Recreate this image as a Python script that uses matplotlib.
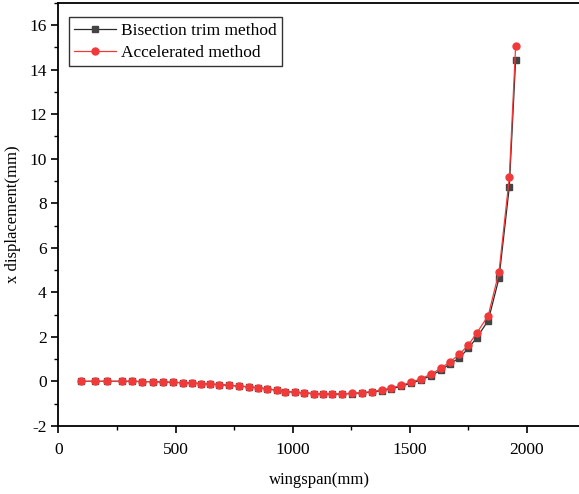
import matplotlib
matplotlib.use("Agg")
import matplotlib.pyplot as plt
from matplotlib.ticker import MultipleLocator

plt.rcParams['font.family'] = ['Liberation Serif', 'DejaVu Serif']
plt.rcParams['axes.unicode_minus'] = False

# wingspan positions (mm)
span = [95, 158, 209, 272, 315, 358, 404, 447, 489, 532, 569, 607, 646, 687,
        727, 769, 812, 852, 892, 932, 969, 1009, 1049, 1089, 1129, 1169, 1209,
        1252, 1295, 1338, 1381, 1421, 1464, 1507, 1549, 1592, 1632, 1672, 1712,
        1750, 1786, 1835, 1881, 1925, 1952]

# x displacement (mm)
bisection = [0, 0, 0, 0, 0, -0.01, -0.02, -0.03, -0.05, -0.06, -0.08, -0.10,
             -0.12, -0.15, -0.18, -0.21, -0.25, -0.29, -0.34, -0.40, -0.46,
             -0.49, -0.52, -0.55, -0.57, -0.58, -0.57, -0.55, -0.52, -0.48,
             -0.42, -0.34, -0.22, -0.08, 0.07, 0.26, 0.50, 0.78, 1.06, 1.48,
             1.96, 2.73, 4.64, 8.74, 14.45]
accelerated = [0, 0, 0, 0, 0, -0.01, -0.02, -0.03, -0.05, -0.06, -0.08, -0.10,
               -0.12, -0.15, -0.18, -0.21, -0.25, -0.29, -0.34, -0.40, -0.46,
               -0.49, -0.52, -0.55, -0.57, -0.57, -0.56, -0.54, -0.51, -0.46,
               -0.39, -0.30, -0.18, -0.04, 0.12, 0.33, 0.58, 0.88, 1.21, 1.63,
               2.17, 2.95, 4.92, 9.16, 15.05]

fig = plt.figure(figsize=(5.79, 4.94), dpi=100)
ax = fig.add_axes([0.101, 0.138, 0.902, 0.856])

ax.plot(span, bisection, color="#2b2b2b", lw=0.9, marker="s", ms=4.5,
        mfc="#444444", mec="#444444", label="Bisection trim method")
ax.plot(span, accelerated, color="#f03a3a", lw=0.9, marker="o", ms=5,
        mfc="#f03a3a", mec="#f03a3a", label="Accelerated method")

ax.set_xlim(0, 2230)
ax.set_ylim(-2, 17)
ax.xaxis.set_major_locator(MultipleLocator(500))
ax.xaxis.set_minor_locator(MultipleLocator(250))
ax.yaxis.set_major_locator(MultipleLocator(2))
ax.yaxis.set_minor_locator(MultipleLocator(1))
ax.tick_params(which="major", direction="out", length=5, width=1.2,
               labelsize=12.5, top=False, right=False)
ax.tick_params(which="minor", direction="out", length=3, width=1.0,
               top=False, right=False)
ax.tick_params(axis="x", which="major", pad=7)
for s in ax.spines.values():
    s.set_linewidth(1.3)

ax.set_xlabel("wingspan(mm)", fontsize=12, labelpad=10)
ax.set_ylabel("x displacement(mm)", fontsize=12, labelpad=6)

leg = ax.legend(loc="upper left", bbox_to_anchor=(0.02, 0.966), fontsize=12.5,
                frameon=True, fancybox=False, handlelength=2.4,
                borderpad=0.3, labelspacing=0.33, handletextpad=0.3,
                borderaxespad=0.0)
leg.get_frame().set_edgecolor("black")
leg.get_frame().set_linewidth(1.0)

fig.savefig("out.png", dpi=100)
